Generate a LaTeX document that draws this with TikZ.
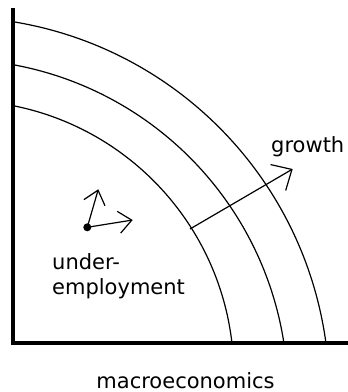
\documentclass[tikz,border=0pt]{standalone}
\usepackage{fontspec}
\setmainfont{DejaVu Sans}
\usetikzlibrary{arrows.meta, positioning}

\begin{document}
\begin{tikzpicture}[x=1pt, y=1pt,
  axisline/.style={line width=3.5pt},
  frontier/.style={line width=1.2pt},
  shiftarrow/.style={line width=1.2pt, -{Straight Barb[length=16pt, width=30pt]}},
  movearrow/.style={line width=1.2pt, -{Straight Barb[length=13pt, width=22pt]}},
  lbl/.style={inner sep=0pt, font=\fontsize{21}{25}\selectfont}
]
  \useasboundingbox (0,0) rectangle (348,392);
  % axes
  \coordinate (top) at (13,384);
  \coordinate (orig) at (13,49.2);
  \coordinate (right) at (348,49.2);
  \draw[axisline] (top) -- (orig) -- (right);
  % frontiers
  \coordinate (cIn) at (-40.3,17.5);
  \coordinate (cMid) at (-47.3,-2.4);
  \coordinate (cOut) at (-47.6,-1.8);
  \draw[frontier] (cIn) ++(78.57:274.1) arc[start angle=78.57, end angle=6.64, radius=274.1];
  \draw[frontier] (cMid) ++(79.46:335.2) arc[start angle=79.46, end angle=8.86, radius=335.2];
  \draw[frontier] (cOut) ++(80.6:377) arc[start angle=80.6, end angle=7.78, radius=377];
  % growth
  \coordinate (gstart) at (190,163);
  \coordinate (gtip) at (292.7,223);
  \draw[shiftarrow] (gstart) -- (gtip);
  \node[lbl, anchor=base west] (growth) at (271,240) {growth};
  % under-employment point
  \node[circle, fill, inner sep=0pt, minimum size=8pt] (ue) at (87.3,164.7) {};
  \coordinate (upTip) at (98.3,202.7);
  \coordinate (rightTip) at (132.7,172);
  \draw[movearrow] (ue.center) -- (upTip);
  \draw[movearrow] (ue.center) -- (rightTip);
  \node[lbl, align=left, anchor=west] (uelabel) at (52,116) {under-\\employment};
  \node[lbl, anchor=base] (macro) at (185.5,4) {macroeconomics};
\end{tikzpicture}
\end{document}
